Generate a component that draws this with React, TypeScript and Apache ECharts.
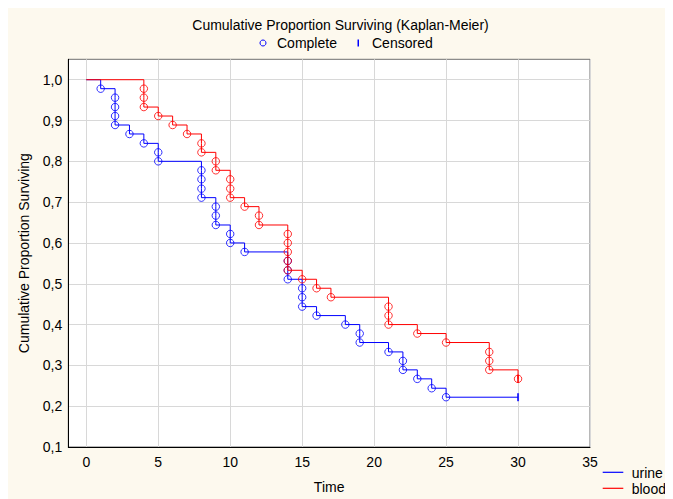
import React, { useEffect, useRef } from "react";
import * as echarts from "echarts";

// Kaplan-Meier events (time, cumulative proportion after the event)
const urineTimes = [1, 2, 2, 2, 2, 3, 4, 5, 5, 8, 8, 8, 8, 9, 9, 9, 10, 10, 11, 14, 14, 14, 15, 15, 15, 16, 18, 19, 19, 21, 22, 22, 23, 24, 25];
const urineSurv = [0.978, 0.956, 0.933, 0.911, 0.889, 0.867, 0.844, 0.822, 0.8, 0.778, 0.756, 0.733, 0.711, 0.689, 0.667, 0.644, 0.622, 0.6, 0.578, 0.556, 0.533, 0.511, 0.489, 0.467, 0.444, 0.422, 0.4, 0.378, 0.356, 0.333, 0.311, 0.289, 0.267, 0.244, 0.222];
const urineCensorTimes = [30];
const urineCensorSurv = [0.222];

const bloodTimes = [4, 4, 4, 5, 6, 7, 8, 8, 9, 9, 10, 10, 10, 11, 12, 12, 14, 14, 14, 14, 14, 15, 16, 17, 21, 21, 21, 23, 25, 28, 28, 28, 30];
const bloodSurv = [0.978, 0.956, 0.933, 0.911, 0.889, 0.867, 0.844, 0.822, 0.8, 0.778, 0.756, 0.733, 0.711, 0.689, 0.667, 0.644, 0.622, 0.6, 0.578, 0.556, 0.533, 0.511, 0.489, 0.467, 0.444, 0.422, 0.4, 0.378, 0.356, 0.333, 0.311, 0.289, 0.267];
const bloodCensorTimes = [30];
const bloodCensorSurv = [0.267];

const startTime = 0;
const startSurv = 1.0;

const seriesNames = ["urine", "blood"];
const xTickValues = [0, 5, 10, 15, 20, 25, 30, 35];
const yTickValues = [0.1, 0.2, 0.3, 0.4, 0.5, 0.6, 0.7, 0.8, 0.9, 1.0];

const BLUE = "#0000ff";
const RED = "#ff0000";
const FONT = "'Liberation Sans', Arial, sans-serif";
const FS = 14;

function stepPoints(times: number[], surv: number[], endTimes: number[]) {
  const pts: number[][] = [[startTime, startSurv]];
  let prev = startSurv;
  for (let i = 0; i < times.length; i++) {
    pts.push([times[i], prev]);
    pts.push([times[i], surv[i]]);
    prev = surv[i];
  }
  const lastT = endTimes.length ? endTimes[endTimes.length - 1] : times[times.length - 1];
  pts.push([lastT, prev]);
  return pts;
}

export default function App() {
  const ref = useRef<HTMLDivElement>(null);
  useEffect(() => {
    if (!ref.current) return;
    const chart = echarts.init(ref.current, null, { renderer: "svg" });
    const pairs = (a: number[], b: number[]) => a.map((t, i) => [t, b[i]]);
    const option: any = {
      animation: false,
      backgroundColor: "#fdf9ee",
      textStyle: { fontFamily: FONT, color: "#000" },
      title: {
        text: "Cumulative Proportion Surviving (Kaplan-Meier)",
        left: "center",
        top: 5,
        textStyle: { fontFamily: FONT, fontSize: FS, fontWeight: "normal", color: "#000" },
      },
      grid: {
        left: 60.3,
        top: 51.3,
        right: 83,
        bottom: 48,
        show: true,
        backgroundColor: "#ffffff",
        borderColor: "#707070",
        borderWidth: 1,
      },
      xAxis: {
        type: "value",
        min: -1.25,
        max: 35,
        name: "Time",
        nameLocation: "middle",
        nameGap: 33,
        nameTextStyle: { fontFamily: FONT, fontSize: FS, color: "#000" },
        axisLine: { show: true, onZero: false, lineStyle: { color: "#000", width: 1 } },
        axisTick: { show: false, customValues: xTickValues },
        axisLabel: {
          customValues: xTickValues,
          fontFamily: FONT,
          fontSize: FS,
          color: "#000",
          margin: 8,
        },
        splitLine: { show: true, lineStyle: { color: "#d8d8d8", width: 1 } },
      },
      yAxis: {
        type: "value",
        min: 0.1,
        max: 1.05,
        name: "Cumulative Proportion Surviving",
        nameLocation: "middle",
        nameGap: 37,
        nameTextStyle: { fontFamily: FONT, fontSize: FS, color: "#000" },
        axisLine: { show: true, onZero: false, lineStyle: { color: "#000", width: 1 } },
        axisTick: { show: false, customValues: yTickValues },
        axisLabel: {
          customValues: yTickValues,
          fontFamily: FONT,
          fontSize: FS,
          color: "#000",
          margin: 6,
          formatter: (v: number) => v.toFixed(1).replace(".", ","),
        },
        splitLine: { show: true, lineStyle: { color: "#d8d8d8", width: 1 } },
      },
      series: [
        {
          name: seriesNames[0],
          type: "line",
          data: stepPoints(urineTimes, urineSurv, urineCensorTimes),
          showSymbol: false,
          lineStyle: { color: BLUE, width: 1 },
          itemStyle: { color: BLUE },
          z: 2,
        },
        {
          name: "urine complete",
          type: "scatter",
          data: pairs(urineTimes, urineSurv),
          symbol: "circle",
          symbolSize: 7.5,
          itemStyle: { color: "transparent", borderColor: BLUE, borderWidth: 1 },
          z: 3,
        },
        {
          name: "urine censored",
          type: "scatter",
          data: pairs(urineCensorTimes, urineCensorSurv),
          symbol: "rect",
          symbolSize: [2, 8],
          itemStyle: { color: BLUE },
          z: 3,
        },
        {
          name: seriesNames[1],
          type: "line",
          data: stepPoints(bloodTimes, bloodSurv, bloodCensorTimes),
          showSymbol: false,
          lineStyle: { color: RED, width: 1 },
          itemStyle: { color: RED },
          z: 4,
        },
        {
          name: "blood complete",
          type: "scatter",
          data: pairs(bloodTimes, bloodSurv),
          symbol: "circle",
          symbolSize: 7.5,
          itemStyle: { color: "transparent", borderColor: RED, borderWidth: 1 },
          z: 5,
        },
        {
          name: "blood censored",
          type: "scatter",
          data: pairs(bloodCensorTimes, bloodCensorSurv),
          symbol: "rect",
          symbolSize: [2, 8],
          itemStyle: { color: RED },
          z: 5,
        },
      ],
      graphic: [
        {
          type: "circle",
          shape: { cx: 255, cy: 35, r: 3 },
          style: { fill: "none", stroke: BLUE, lineWidth: 1 },
        },
        {
          type: "text",
          x: 269,
          y: 35,
          style: { text: "Complete", fill: "#000", font: FS + "px " + FONT, textVerticalAlign: "middle" },
        },
        {
          type: "rect",
          shape: { x: 349.5, y: 31.5, width: 1.5, height: 7 },
          style: { fill: BLUE },
        },
        {
          type: "text",
          x: 364,
          y: 35,
          style: { text: "Censored", fill: "#000", font: FS + "px " + FONT, textVerticalAlign: "middle" },
        },
        {
          type: "line",
          shape: { x1: 594.7, y1: 464.3, x2: 615.3, y2: 464.3 },
          style: { stroke: BLUE, lineWidth: 1.2 },
        },
        {
          type: "text",
          x: 623.7,
          y: 464.5,
          style: { text: seriesNames[0], fill: "#000", font: FS + "px " + FONT, textVerticalAlign: "middle" },
        },
        {
          type: "line",
          shape: { x1: 594.7, y1: 480.3, x2: 615.3, y2: 480.3 },
          style: { stroke: RED, lineWidth: 1.2 },
        },
        {
          type: "text",
          x: 623.7,
          y: 481,
          style: { text: seriesNames[1], fill: "#000", font: FS + "px " + FONT, textVerticalAlign: "middle" },
        },
      ],
    };
    chart.setOption(option);
    return () => chart.dispose();
  }, []);
  return <div ref={ref} style={{ width: 665, height: 491 }} />;
}
